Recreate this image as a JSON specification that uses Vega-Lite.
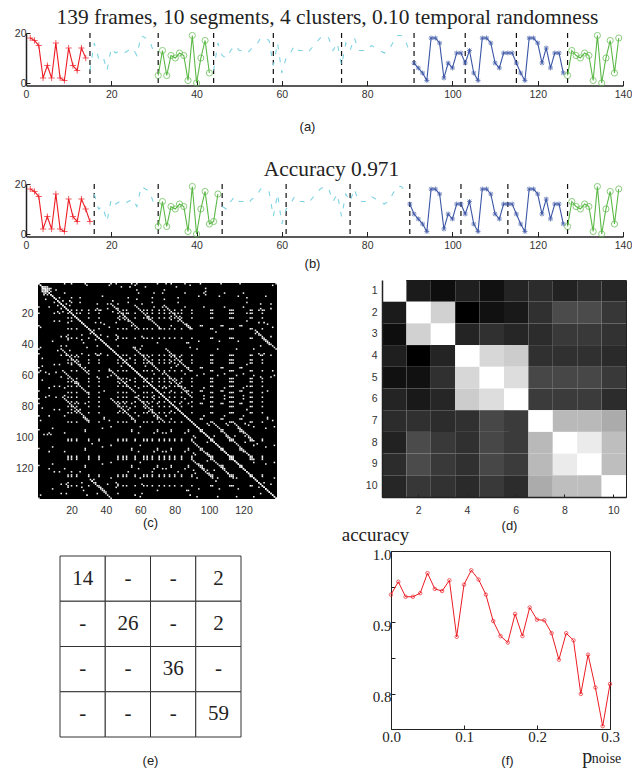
{"$schema":"https://vega.github.io/schema/vega-lite/v6.json","background":"white","padding":{"left":14,"top":6,"right":0,"bottom":0},"spacing":-12,"config":{"font":"Liberation Sans","view":{"stroke":null},"axisX":{"labelFlush":false}},
"datasets":{"seq":[{"t":1,"v":18,"a":"r","b":"r"},{"t":2,"v":17,"a":"r","b":"r"},{"t":3,"v":15,"a":"r","b":"r"},{"t":4,"v":2,"a":"r","b":"r"},{"t":5,"v":7,"a":"r","b":"r"},{"t":6,"v":2,"a":"r","b":"r"},{"t":7,"v":16,"a":"r","b":"r"},{"t":8,"v":2,"a":"r","b":"r"},{"t":9,"v":1,"a":"r","b":"r"},{"t":10,"v":14,"a":"r","b":"r"},{"t":11,"v":7,"a":"r","b":"r"},{"t":12,"v":5,"a":"r","b":"r"},{"t":13,"v":14,"a":"r","b":"r"},{"t":14,"v":10,"a":"r","b":"r"},{"t":15,"v":5,"a":"c1","b":"r"},{"t":16,"v":16,"a":"c1","b":"c1"},{"t":17,"v":10,"a":"c1","b":"c1"},{"t":18,"v":11,"a":"c1","b":"c1"},{"t":19,"v":5,"a":"c1","b":"c1"},{"t":20,"v":14,"a":"c1","b":"c1"},{"t":21,"v":12,"a":"c1","b":"c1"},{"t":22,"v":13,"a":"c1","b":"c1"},{"t":23,"v":12,"a":"c1","b":"c1"},{"t":24,"v":13,"a":"c1","b":"c1"},{"t":25,"v":14,"a":"c1","b":"c1"},{"t":26,"v":11,"a":"c1","b":"c1"},{"t":27,"v":19,"a":"c1","b":"c1"},{"t":28,"v":18,"a":"c1","b":"c1"},{"t":29,"v":17,"a":"c1","b":"c1"},{"t":30,"v":12,"a":"c1","b":"c1"},{"t":31,"v":3,"a":"g1","b":"g1"},{"t":32,"v":13,"a":"g1","b":"g1"},{"t":33,"v":3,"a":"g1","b":"g1"},{"t":34,"v":11,"a":"g1","b":"g1"},{"t":35,"v":10,"a":"g1","b":"g1"},{"t":36,"v":12,"a":"g1","b":"g1"},{"t":37,"v":11,"a":"g1","b":"g1"},{"t":38,"v":1,"a":"g1","b":"g1"},{"t":39,"v":19,"a":"g1","b":"g1"},{"t":40,"v":0,"a":"g1","b":"g1"},{"t":41,"v":10,"a":"g1","b":"g1"},{"t":42,"v":17,"a":"g1","b":"g1"},{"t":43,"v":4,"a":"g1","b":"g1"},{"t":44,"v":5,"a":"c2","b":"g1"},{"t":45,"v":16,"a":"c2","b":"g1"},{"t":46,"v":11,"a":"c2","b":"c2"},{"t":47,"v":10,"a":"c2","b":"c2"},{"t":48,"v":13,"a":"c2","b":"c2"},{"t":49,"v":15,"a":"c2","b":"c2"},{"t":50,"v":13,"a":"c2","b":"c2"},{"t":51,"v":13,"a":"c2","b":"c2"},{"t":52,"v":12,"a":"c2","b":"c2"},{"t":53,"v":14,"a":"c2","b":"c2"},{"t":54,"v":15,"a":"c2","b":"c2"},{"t":55,"v":18,"a":"c2","b":"c2"},{"t":56,"v":18,"a":"c2","b":"c2"},{"t":57,"v":17,"a":"c2","b":"c2"},{"t":58,"v":7,"a":"c2","b":"c2"},{"t":59,"v":16,"a":"c2","b":"c2"},{"t":60,"v":4,"a":"c2","b":"c2"},{"t":61,"v":10,"a":"c2","b":"c2"},{"t":62,"v":12,"a":"c2","b":"c2"},{"t":63,"v":15,"a":"c2","b":"c2"},{"t":64,"v":13,"a":"c2","b":"c2"},{"t":65,"v":13,"a":"c2","b":"c2"},{"t":66,"v":12,"a":"c2","b":"c2"},{"t":67,"v":14,"a":"c2","b":"c2"},{"t":68,"v":16,"a":"c2","b":"c2"},{"t":69,"v":18,"a":"c2","b":"c2"},{"t":70,"v":19,"a":"c2","b":"c2"},{"t":71,"v":18,"a":"c2","b":"c2"},{"t":72,"v":13,"a":"c2","b":"c2"},{"t":73,"v":16,"a":"c2","b":"c2"},{"t":74,"v":7,"a":"c2","b":"c2"},{"t":75,"v":16,"a":"c2","b":"c2"},{"t":76,"v":13,"a":"c2","b":"c2"},{"t":77,"v":18,"a":"c2","b":"c2"},{"t":78,"v":13,"a":"c2","b":"c2"},{"t":79,"v":13,"a":"c2","b":"c2"},{"t":80,"v":13,"a":"c2","b":"c2"},{"t":81,"v":15,"a":"c2","b":"c2"},{"t":82,"v":14,"a":"c2","b":"c2"},{"t":83,"v":13,"a":"c2","b":"c2"},{"t":84,"v":12,"a":"c2","b":"c2"},{"t":85,"v":13,"a":"c2","b":"c2"},{"t":86,"v":16,"a":"c2","b":"c2"},{"t":87,"v":19,"a":"c2","b":"c2"},{"t":88,"v":19,"a":"c2","b":"c2"},{"t":89,"v":17,"a":"c2","b":"c2"},{"t":90,"v":12,"a":"c2","b":"b"},{"t":91,"v":8,"a":"b","b":"b"},{"t":92,"v":6,"a":"b","b":"b"},{"t":93,"v":4,"a":"b","b":"b"},{"t":94,"v":1,"a":"b","b":"b"},{"t":95,"v":18,"a":"b","b":"b"},{"t":96,"v":18,"a":"b","b":"b"},{"t":97,"v":16,"a":"b","b":"b"},{"t":98,"v":2,"a":"b","b":"b"},{"t":99,"v":8,"a":"b","b":"b"},{"t":100,"v":6,"a":"b","b":"b"},{"t":101,"v":12,"a":"b","b":"b"},{"t":102,"v":12,"a":"b","b":"b"},{"t":103,"v":8,"a":"b","b":"b"},{"t":104,"v":13,"a":"b","b":"b"},{"t":105,"v":4,"a":"b","b":"b"},{"t":106,"v":1,"a":"b","b":"b"},{"t":107,"v":18,"a":"b","b":"b"},{"t":108,"v":18,"a":"b","b":"b"},{"t":109,"v":16,"a":"b","b":"b"},{"t":110,"v":8,"a":"b","b":"b"},{"t":111,"v":6,"a":"b","b":"b"},{"t":112,"v":12,"a":"b","b":"b"},{"t":113,"v":12,"a":"b","b":"b"},{"t":114,"v":12,"a":"b","b":"b"},{"t":115,"v":8,"a":"b","b":"b"},{"t":116,"v":4,"a":"b","b":"b"},{"t":117,"v":1,"a":"b","b":"b"},{"t":118,"v":18,"a":"b","b":"b"},{"t":119,"v":18,"a":"b","b":"b"},{"t":120,"v":16,"a":"b","b":"b"},{"t":121,"v":8,"a":"b","b":"b"},{"t":122,"v":14,"a":"b","b":"b"},{"t":123,"v":6,"a":"b","b":"b"},{"t":124,"v":12,"a":"b","b":"b"},{"t":125,"v":12,"a":"b","b":"b"},{"t":126,"v":4,"a":"b","b":"b"},{"t":127,"v":3,"a":"g2","b":"g2"},{"t":128,"v":13,"a":"g2","b":"g2"},{"t":129,"v":11,"a":"g2","b":"g2"},{"t":130,"v":10,"a":"g2","b":"g2"},{"t":131,"v":12,"a":"g2","b":"g2"},{"t":132,"v":11,"a":"g2","b":"g2"},{"t":133,"v":1,"a":"g2","b":"g2"},{"t":134,"v":19,"a":"g2","b":"g2"},{"t":135,"v":0,"a":"g2","b":"g2"},{"t":136,"v":10,"a":"g2","b":"g2"},{"t":137,"v":17,"a":"g2","b":"g2"},{"t":138,"v":4,"a":"g2","b":"g2"},{"t":139,"v":18,"a":"g2","b":"g2"}],
"rec":[{"a":1,"b":1},{"a":2,"b":2},{"a":3,"b":3},{"a":4,"b":4},{"a":5,"b":5},{"a":6,"b":6},{"a":7,"b":7},{"a":8,"b":8},{"a":9,"b":9},{"a":10,"b":10},{"a":11,"b":11},{"a":12,"b":12},{"a":13,"b":13},{"a":14,"b":14},{"a":15,"b":15},{"a":16,"b":16},{"a":17,"b":17},{"a":18,"b":18},{"a":19,"b":19},{"a":20,"b":20},{"a":21,"b":21},{"a":22,"b":22},{"a":23,"b":23},{"a":24,"b":24},{"a":25,"b":25},{"a":26,"b":26},{"a":27,"b":27},{"a":28,"b":28},{"a":29,"b":29},{"a":30,"b":30},{"a":31,"b":31},{"a":32,"b":32},{"a":33,"b":33},{"a":34,"b":34},{"a":35,"b":35},{"a":36,"b":36},{"a":37,"b":37},{"a":38,"b":38},{"a":39,"b":39},{"a":40,"b":40},{"a":41,"b":41},{"a":42,"b":42},{"a":43,"b":43},{"a":44,"b":44},{"a":45,"b":45},{"a":46,"b":46},{"a":47,"b":47},{"a":48,"b":48},{"a":49,"b":49},{"a":50,"b":50},{"a":51,"b":51},{"a":52,"b":52},{"a":53,"b":53},{"a":54,"b":54},{"a":55,"b":55},{"a":56,"b":56},{"a":57,"b":57},{"a":58,"b":58},{"a":59,"b":59},{"a":60,"b":60},{"a":61,"b":61},{"a":62,"b":62},{"a":63,"b":63},{"a":64,"b":64},{"a":65,"b":65},{"a":66,"b":66},{"a":67,"b":67},{"a":68,"b":68},{"a":69,"b":69},{"a":70,"b":70},{"a":71,"b":71},{"a":72,"b":72},{"a":73,"b":73},{"a":74,"b":74},{"a":75,"b":75},{"a":76,"b":76},{"a":77,"b":77},{"a":78,"b":78},{"a":79,"b":79},{"a":80,"b":80},{"a":81,"b":81},{"a":82,"b":82},{"a":83,"b":83},{"a":84,"b":84},{"a":85,"b":85},{"a":86,"b":86},{"a":87,"b":87},{"a":88,"b":88},{"a":89,"b":89},{"a":90,"b":90},{"a":91,"b":91},{"a":92,"b":92},{"a":93,"b":93},{"a":94,"b":94},{"a":95,"b":95},{"a":96,"b":96},{"a":97,"b":97},{"a":98,"b":98},{"a":99,"b":99},{"a":100,"b":100},{"a":101,"b":101},{"a":102,"b":102},{"a":103,"b":103},{"a":104,"b":104},{"a":105,"b":105},{"a":106,"b":106},{"a":107,"b":107},{"a":108,"b":108},{"a":109,"b":109},{"a":110,"b":110},{"a":111,"b":111},{"a":112,"b":112},{"a":113,"b":113},{"a":114,"b":114},{"a":115,"b":115},{"a":116,"b":116},{"a":117,"b":117},{"a":118,"b":118},{"a":119,"b":119},{"a":120,"b":120},{"a":121,"b":121},{"a":122,"b":122},{"a":123,"b":123},{"a":124,"b":124},{"a":125,"b":125},{"a":126,"b":126},{"a":127,"b":127},{"a":128,"b":128},{"a":129,"b":129},{"a":130,"b":130},{"a":131,"b":131},{"a":132,"b":132},{"a":133,"b":133},{"a":134,"b":134},{"a":135,"b":135},{"a":136,"b":136},{"a":137,"b":137},{"a":138,"b":138},{"a":139,"b":139},
{"a":14,"b":43},{"a":15,"b":44},{"a":16,"b":45},{"a":17,"b":46},{"a":18,"b":47},{"a":19,"b":48},{"a":20,"b":49},{"a":21,"b":50},{"a":22,"b":51},{"a":23,"b":52},{"a":24,"b":53},{"a":25,"b":54},{"a":26,"b":55},{"a":27,"b":56},{"a":28,"b":57},{"a":29,"b":58},{"a":30,"b":59},
{"a":15,"b":57},{"a":16,"b":58},{"a":17,"b":59},{"a":18,"b":60},{"a":19,"b":61},{"a":20,"b":62},{"a":21,"b":63},{"a":22,"b":64},{"a":23,"b":65},{"a":24,"b":66},{"a":25,"b":67},{"a":26,"b":68},{"a":27,"b":69},{"a":28,"b":70},{"a":29,"b":71},{"a":30,"b":72},
{"a":15,"b":74},{"a":16,"b":75},{"a":17,"b":76},{"a":18,"b":77},{"a":19,"b":78},{"a":20,"b":79},{"a":21,"b":80},{"a":22,"b":81},{"a":23,"b":82},{"a":24,"b":83},{"a":25,"b":84},{"a":26,"b":85},{"a":27,"b":86},{"a":28,"b":87},{"a":29,"b":88},{"a":30,"b":89},
{"a":42,"b":56},{"a":43,"b":57},{"a":44,"b":58},{"a":45,"b":59},{"a":46,"b":60},{"a":47,"b":61},{"a":48,"b":62},{"a":49,"b":63},{"a":50,"b":64},{"a":51,"b":65},{"a":52,"b":66},{"a":53,"b":67},{"a":54,"b":68},{"a":55,"b":69},{"a":56,"b":70},{"a":57,"b":71},
{"a":43,"b":75},{"a":44,"b":76},{"a":45,"b":77},{"a":46,"b":78},{"a":47,"b":79},{"a":48,"b":80},{"a":49,"b":81},{"a":50,"b":82},{"a":51,"b":83},{"a":52,"b":84},{"a":53,"b":85},{"a":54,"b":86},{"a":55,"b":87},{"a":56,"b":88},{"a":57,"b":89},
{"a":58,"b":74},{"a":59,"b":75},{"a":60,"b":76},{"a":61,"b":77},{"a":62,"b":78},{"a":63,"b":79},{"a":64,"b":80},{"a":65,"b":81},{"a":66,"b":82},{"a":67,"b":83},{"a":68,"b":84},{"a":69,"b":85},{"a":70,"b":86},{"a":71,"b":87},{"a":72,"b":88},{"a":73,"b":89},
{"a":31,"b":127},{"a":32,"b":128},{"a":33,"b":129},{"a":34,"b":130},{"a":35,"b":131},{"a":36,"b":132},{"a":37,"b":133},{"a":38,"b":134},{"a":39,"b":135},{"a":40,"b":136},{"a":41,"b":137},{"a":42,"b":138},{"a":43,"b":139},
{"a":91,"b":103},{"a":92,"b":104},{"a":93,"b":105},{"a":94,"b":106},{"a":95,"b":107},{"a":96,"b":108},{"a":97,"b":109},{"a":98,"b":110},{"a":99,"b":111},{"a":100,"b":112},{"a":101,"b":113},{"a":102,"b":114},{"a":103,"b":115},{"a":104,"b":116},{"a":105,"b":117},{"a":106,"b":118},{"a":107,"b":119},{"a":108,"b":120},{"a":109,"b":121},{"a":110,"b":122},{"a":111,"b":123},{"a":112,"b":124},{"a":113,"b":125},{"a":114,"b":126},
{"a":91,"b":115},{"a":92,"b":116},{"a":93,"b":117},{"a":94,"b":118},{"a":95,"b":119},{"a":96,"b":120},{"a":97,"b":121},{"a":98,"b":122},{"a":99,"b":123},{"a":100,"b":124},{"a":101,"b":125},{"a":102,"b":126},
{"a":18,"b":20},{"a":18,"b":23},{"a":18,"b":30},{"a":18,"b":36},{"a":18,"b":50},{"a":18,"b":52},{"a":18,"b":62},{"a":18,"b":64},{"a":18,"b":67},{"a":18,"b":71},{"a":18,"b":74},{"a":18,"b":80},{"a":18,"b":84},{"a":18,"b":90},{"a":18,"b":101},{"a":18,"b":102},{"a":18,"b":112},{"a":18,"b":113},{"a":18,"b":114},{"a":18,"b":124},{"a":18,"b":125},{"a":18,"b":131},
{"a":20,"b":23},{"a":20,"b":30},{"a":20,"b":36},{"a":20,"b":47},{"a":20,"b":50},{"a":20,"b":52},{"a":20,"b":57},{"a":20,"b":64},{"a":20,"b":67},{"a":20,"b":71},{"a":20,"b":74},{"a":20,"b":77},{"a":20,"b":80},{"a":20,"b":84},{"a":20,"b":90},{"a":20,"b":101},{"a":20,"b":102},{"a":20,"b":112},{"a":20,"b":113},{"a":20,"b":114},{"a":20,"b":124},{"a":20,"b":125},{"a":20,"b":131},
{"a":23,"b":30},{"a":23,"b":36},{"a":23,"b":47},{"a":23,"b":50},{"a":23,"b":57},{"a":23,"b":62},{"a":23,"b":64},{"a":23,"b":67},{"a":23,"b":71},{"a":23,"b":74},{"a":23,"b":77},{"a":23,"b":80},{"a":23,"b":84},{"a":23,"b":90},{"a":23,"b":101},{"a":23,"b":102},{"a":23,"b":112},{"a":23,"b":113},{"a":23,"b":114},{"a":23,"b":124},{"a":23,"b":125},{"a":23,"b":131},
{"a":30,"b":36},{"a":30,"b":47},{"a":30,"b":50},{"a":30,"b":52},{"a":30,"b":57},{"a":30,"b":62},{"a":30,"b":64},{"a":30,"b":67},{"a":30,"b":71},{"a":30,"b":74},{"a":30,"b":77},{"a":30,"b":80},{"a":30,"b":84},{"a":30,"b":90},{"a":30,"b":101},{"a":30,"b":102},{"a":30,"b":112},{"a":30,"b":113},{"a":30,"b":114},{"a":30,"b":124},{"a":30,"b":125},{"a":30,"b":131},
{"a":36,"b":47},{"a":36,"b":50},{"a":36,"b":52},{"a":36,"b":57},{"a":36,"b":62},{"a":36,"b":64},{"a":36,"b":67},{"a":36,"b":71},{"a":36,"b":74},{"a":36,"b":77},{"a":36,"b":80},{"a":36,"b":84},{"a":36,"b":90},{"a":36,"b":101},{"a":36,"b":102},{"a":36,"b":112},{"a":36,"b":113},{"a":36,"b":114},{"a":36,"b":124},{"a":36,"b":125},{"a":36,"b":131},
{"a":47,"b":50},{"a":47,"b":52},{"a":47,"b":57},{"a":47,"b":62},{"a":47,"b":64},{"a":47,"b":67},{"a":47,"b":71},{"a":47,"b":74},{"a":47,"b":77},{"a":47,"b":80},{"a":47,"b":84},{"a":47,"b":90},{"a":47,"b":101},{"a":47,"b":102},{"a":47,"b":112},{"a":47,"b":113},{"a":47,"b":114},{"a":47,"b":124},{"a":47,"b":125},{"a":47,"b":131},
{"a":50,"b":52},{"a":50,"b":57},{"a":50,"b":62},{"a":50,"b":67},{"a":50,"b":71},{"a":50,"b":74},{"a":50,"b":77},{"a":50,"b":80},{"a":50,"b":84},{"a":50,"b":90},{"a":50,"b":101},{"a":50,"b":102},{"a":50,"b":112},{"a":50,"b":113},{"a":50,"b":114},{"a":50,"b":124},{"a":50,"b":125},{"a":50,"b":131},
{"a":52,"b":57},{"a":52,"b":62},{"a":52,"b":64},{"a":52,"b":67},{"a":52,"b":71},{"a":52,"b":74},{"a":52,"b":77},{"a":52,"b":80},{"a":52,"b":90},{"a":52,"b":101},{"a":52,"b":102},{"a":52,"b":112},{"a":52,"b":113},{"a":52,"b":114},{"a":52,"b":124},{"a":52,"b":125},{"a":52,"b":131},
{"a":57,"b":62},{"a":57,"b":64},{"a":57,"b":67},{"a":57,"b":74},{"a":57,"b":77},{"a":57,"b":80},{"a":57,"b":84},{"a":57,"b":90},{"a":57,"b":101},{"a":57,"b":102},{"a":57,"b":112},{"a":57,"b":113},{"a":57,"b":114},{"a":57,"b":124},{"a":57,"b":125},{"a":57,"b":131},
{"a":62,"b":64},{"a":62,"b":67},{"a":62,"b":71},{"a":62,"b":74},{"a":62,"b":77},{"a":62,"b":80},{"a":62,"b":84},{"a":62,"b":90},{"a":62,"b":101},{"a":62,"b":102},{"a":62,"b":112},{"a":62,"b":113},{"a":62,"b":114},{"a":62,"b":124},{"a":62,"b":125},{"a":62,"b":131},
{"a":64,"b":67},{"a":64,"b":71},{"a":64,"b":74},{"a":64,"b":77},{"a":64,"b":84},{"a":64,"b":90},{"a":64,"b":101},{"a":64,"b":102},{"a":64,"b":112},{"a":64,"b":113},{"a":64,"b":114},{"a":64,"b":124},{"a":64,"b":125},{"a":64,"b":131},
{"a":67,"b":71},{"a":67,"b":74},{"a":67,"b":77},{"a":67,"b":80},{"a":67,"b":84},{"a":67,"b":90},{"a":67,"b":101},{"a":67,"b":102},{"a":67,"b":112},{"a":67,"b":113},{"a":67,"b":114},{"a":67,"b":124},{"a":67,"b":125},{"a":67,"b":131},
{"a":71,"b":74},{"a":71,"b":77},{"a":71,"b":80},{"a":71,"b":84},{"a":71,"b":90},{"a":71,"b":101},{"a":71,"b":102},{"a":71,"b":112},{"a":71,"b":113},{"a":71,"b":114},{"a":71,"b":124},{"a":71,"b":125},{"a":71,"b":131},
{"a":74,"b":77},{"a":74,"b":80},{"a":74,"b":84},{"a":74,"b":90},{"a":74,"b":101},{"a":74,"b":102},{"a":74,"b":112},{"a":74,"b":113},{"a":74,"b":114},{"a":74,"b":124},{"a":74,"b":125},{"a":74,"b":131},
{"a":77,"b":80},{"a":77,"b":84},{"a":77,"b":90},{"a":77,"b":101},{"a":77,"b":102},{"a":77,"b":112},{"a":77,"b":113},{"a":77,"b":114},{"a":77,"b":124},{"a":77,"b":125},{"a":77,"b":131},
{"a":80,"b":84},{"a":80,"b":90},{"a":80,"b":101},{"a":80,"b":102},{"a":80,"b":112},{"a":80,"b":113},{"a":80,"b":114},{"a":80,"b":124},{"a":80,"b":125},{"a":80,"b":131},
{"a":84,"b":90},{"a":84,"b":101},{"a":84,"b":102},{"a":84,"b":112},{"a":84,"b":113},{"a":84,"b":114},{"a":84,"b":124},{"a":84,"b":125},{"a":84,"b":131},
{"a":90,"b":101},{"a":90,"b":102},{"a":90,"b":112},{"a":90,"b":113},{"a":90,"b":114},{"a":90,"b":124},{"a":90,"b":125},{"a":90,"b":131},
{"a":101,"b":102},{"a":101,"b":112},{"a":101,"b":114},{"a":101,"b":124},{"a":101,"b":131},{"a":102,"b":112},{"a":102,"b":113},{"a":102,"b":124},{"a":102,"b":125},{"a":102,"b":131},{"a":112,"b":113},{"a":112,"b":114},{"a":112,"b":125},{"a":112,"b":131},{"a":113,"b":114},{"a":113,"b":124},{"a":113,"b":131},{"a":114,"b":124},{"a":114,"b":125},{"a":114,"b":131},{"a":124,"b":125},{"a":124,"b":131},{"a":125,"b":131},
{"a":28,"b":55},{"a":28,"b":78},{"a":28,"b":88},{"a":28,"b":95},{"a":28,"b":96},{"a":28,"b":107},{"a":28,"b":108},{"a":28,"b":118},{"a":28,"b":119},{"a":55,"b":78},{"a":55,"b":88},{"a":55,"b":95},{"a":55,"b":96},{"a":55,"b":107},{"a":55,"b":108},{"a":55,"b":118},{"a":55,"b":119},{"a":70,"b":78},{"a":70,"b":88},{"a":70,"b":95},{"a":70,"b":96},{"a":70,"b":107},{"a":70,"b":108},{"a":70,"b":118},{"a":70,"b":119},{"a":78,"b":88},{"a":78,"b":95},{"a":78,"b":96},{"a":78,"b":107},{"a":78,"b":108},{"a":78,"b":118},{"a":78,"b":119},{"a":88,"b":95},{"a":88,"b":96},{"a":88,"b":107},{"a":88,"b":108},{"a":88,"b":118},{"a":88,"b":119},{"a":95,"b":96},{"a":95,"b":108},{"a":95,"b":118},{"a":96,"b":107},{"a":96,"b":118},{"a":96,"b":119},{"a":107,"b":108},{"a":107,"b":118},{"a":108,"b":118},{"a":108,"b":119},{"a":118,"b":119},
{"a":4,"b":6},{"a":4,"b":8},{"a":6,"b":8},{"a":4,"b":98},{"a":6,"b":98},{"a":8,"b":98},{"a":3,"b":5},{"a":3,"b":6},{"a":3,"b":4},{"a":4,"b":5},{"a":5,"b":6},{"a":5,"b":7},{"a":4,"b":7},
{"a":9,"b":38},{"a":9,"b":94},{"a":9,"b":106},{"a":9,"b":117},{"a":9,"b":133},{"a":38,"b":94},{"a":38,"b":106},{"a":38,"b":117},{"a":38,"b":133},{"a":94,"b":117},{"a":94,"b":133},{"a":106,"b":133},{"a":117,"b":133},
{"a":43,"b":60},{"a":43,"b":93},{"a":43,"b":105},{"a":43,"b":116},{"a":43,"b":126},{"a":60,"b":93},{"a":60,"b":105},{"a":60,"b":116},{"a":60,"b":126},{"a":60,"b":138},{"a":93,"b":126},{"a":93,"b":138},{"a":105,"b":126},{"a":105,"b":138},{"a":116,"b":126},{"a":116,"b":138},{"a":126,"b":138},
{"a":91,"b":99},{"a":91,"b":110},{"a":91,"b":121},{"a":99,"b":103},{"a":99,"b":110},{"a":99,"b":115},{"a":99,"b":121},{"a":103,"b":121},{"a":92,"b":100},{"a":92,"b":111},{"a":92,"b":123},{"a":100,"b":111},{"a":100,"b":123},{"a":111,"b":123},
{"a":7,"b":16},{"a":7,"b":59},{"a":7,"b":68},{"a":7,"b":73},{"a":7,"b":86},{"a":7,"b":97},{"a":7,"b":109},{"a":7,"b":120},{"a":16,"b":68},{"a":16,"b":73},{"a":16,"b":86},{"a":16,"b":97},{"a":16,"b":109},{"a":16,"b":120},{"a":59,"b":68},{"a":59,"b":73},{"a":59,"b":86},{"a":59,"b":97},{"a":59,"b":109},{"a":59,"b":120},{"a":68,"b":73},{"a":68,"b":75},{"a":68,"b":86},{"a":68,"b":97},{"a":68,"b":109},{"a":68,"b":120},{"a":73,"b":97},{"a":73,"b":109},{"a":73,"b":120},{"a":75,"b":86},{"a":75,"b":97},{"a":75,"b":109},{"a":75,"b":120},{"a":86,"b":97},{"a":86,"b":109},{"a":86,"b":120},{"a":97,"b":120},{"a":109,"b":120},
{"a":27,"b":39},{"a":27,"b":87},{"a":27,"b":134},{"a":39,"b":70},{"a":39,"b":87},{"a":39,"b":88},{"a":39,"b":134},{"a":70,"b":87},{"a":70,"b":134},{"a":87,"b":134},{"a":88,"b":134},{"a":31,"b":33},{"a":33,"b":127},{"a":40,"b":135},
{"a":2,"b":29},{"a":2,"b":42},{"a":2,"b":57},{"a":2,"b":89},{"a":2,"b":137},{"a":29,"b":42},{"a":29,"b":89},{"a":29,"b":137},{"a":42,"b":57},{"a":42,"b":89},{"a":57,"b":137},{"a":89,"b":137},
{"a":10,"b":13},{"a":10,"b":20},{"a":10,"b":25},{"a":10,"b":53},{"a":10,"b":67},{"a":10,"b":82},{"a":10,"b":122},{"a":13,"b":20},{"a":13,"b":25},{"a":13,"b":53},{"a":13,"b":67},{"a":13,"b":82},{"a":13,"b":122},{"a":20,"b":25},{"a":20,"b":53},{"a":20,"b":82},{"a":20,"b":122},{"a":25,"b":53},{"a":25,"b":82},{"a":25,"b":122},{"a":53,"b":82},{"a":53,"b":122},{"a":67,"b":82},{"a":67,"b":122},{"a":82,"b":122},
{"a":14,"b":17},{"a":14,"b":35},{"a":14,"b":41},{"a":14,"b":47},{"a":14,"b":61},{"a":14,"b":130},{"a":14,"b":136},{"a":17,"b":35},{"a":17,"b":41},{"a":17,"b":47},{"a":17,"b":130},{"a":17,"b":136},{"a":35,"b":41},{"a":35,"b":47},{"a":35,"b":61},{"a":35,"b":136},{"a":41,"b":47},{"a":41,"b":61},{"a":41,"b":130},{"a":47,"b":130},{"a":47,"b":136},{"a":61,"b":130},{"a":61,"b":136},{"a":130,"b":136},
{"a":18,"b":26},{"a":18,"b":34},{"a":18,"b":37},{"a":18,"b":129},{"a":18,"b":132},{"a":26,"b":34},{"a":26,"b":37},{"a":26,"b":46},{"a":26,"b":129},{"a":26,"b":132},{"a":34,"b":37},{"a":34,"b":46},{"a":34,"b":129},{"a":37,"b":46},{"a":37,"b":132},{"a":46,"b":129},{"a":46,"b":132},{"a":129,"b":132},
{"a":12,"b":15},{"a":12,"b":19},{"a":12,"b":44},{"a":15,"b":19},{"a":19,"b":44},{"a":5,"b":11},{"a":5,"b":58},{"a":5,"b":74},{"a":11,"b":58},{"a":11,"b":74},{"a":3,"b":49},{"a":3,"b":54},{"a":3,"b":63},{"a":3,"b":81},{"a":49,"b":54},{"a":54,"b":63},{"a":54,"b":81},{"a":63,"b":81},
{"a":1,"b":16},{"a":1,"b":20},{"a":1,"b":28},{"a":1,"b":43},{"a":1,"b":46},{"a":1,"b":55},{"a":1,"b":58},{"a":1,"b":70},{"a":1,"b":75},{"a":1,"b":78},{"a":1,"b":86},{"a":1,"b":95},{"a":1,"b":107},{"a":1,"b":118},{"a":1,"b":139},{"a":22,"b":48},{"a":22,"b":51},{"a":24,"b":48},{"a":24,"b":51},{"a":22,"b":65},{"a":24,"b":65},{"a":22,"b":78},{"a":24,"b":78},{"a":22,"b":83},{"a":24,"b":83},{"a":48,"b":65},{"a":51,"b":65},{"a":48,"b":78},{"a":51,"b":78},{"a":48,"b":83},{"a":51,"b":83},{"a":65,"b":78},{"a":65,"b":83},{"a":78,"b":83},{"a":32,"b":128},{"a":32,"b":104},{"a":104,"b":128}]},
"vconcat":[
{"width":597,"height":52.5,"title":{"text":"139 frames, 10 segments, 4 clusters, 0.10 temporal randomness","font":"Liberation Serif","fontSize":21.4,"fontWeight":"normal","color":"#222","dx":3,"offset":0},"layer":[
{"data":{"values":[{"s":15},{"s":31},{"s":44},{"s":58},{"s":74},{"s":91},{"s":103},{"s":115},{"s":127}]},"mark":{"type":"rule","strokeDash":[5,4],"strokeWidth":1.2,"color":"#111"},"encoding":{"x":{"field":"s","type":"quantitative","scale":{"domain":[0,140],"nice":false}}}},
{"data":{"name":"seq"},"mark":{"type":"line","strokeWidth":1.1,"clip":false},"encoding":{"x":{"field":"t","type":"quantitative","scale":{"domain":[0,140],"nice":false},"axis":{"values":[0,20,40,60,80,100,120,140],"grid":false,"labelFontSize":10.5,"labelColor":"#333","tickSize":-5,"tickColor":"#222","domainColor":"#222","domainWidth":1.5,"labelPadding":9,"title":"(a)","titleFontSize":13,"titleFontWeight":"normal","titleColor":"#222","titleX":281,"titleY":34.5}},"y":{"field":"v","type":"quantitative","scale":{"domain":[-1,20],"nice":false},"axis":{"values":[0,10,20],"grid":false,"labelFontSize":10.5,"labelColor":"#333","tickSize":-4,"tickColor":"#222","domainColor":"#222","domainWidth":1.5,"labelPadding":4,"title":null}},"color":{"field":"a","type":"nominal","legend":null,"scale":{"domain":["r","c1","g1","c2","b","g2"],"range":["#ed1c24","#7dd3e3","#5cb948","#7dd3e3","#3a55a5","#5cb948"]}},"strokeDash":{"field":"a","type":"nominal","legend":null,"scale":{"domain":["r","c1","g1","c2","b","g2"],"range":[[1,0],[5,8],[1,0],[5,8],[1,0],[1,0]]}}}},
{"data":{"name":"seq"},"transform":[{"filter":"datum.a!='c1'&&datum.a!='c2'"}],"mark":{"type":"point","filled":false,"size":38},"encoding":{"x":{"field":"t","type":"quantitative"},"y":{"field":"v","type":"quantitative"},"color":{"field":"a","type":"nominal","legend":null},"strokeWidth":{"field":"a","type":"nominal","legend":null,"scale":{"domain":["r","g1","b","g2"],"range":[1,1,1.6,1]}},"shape":{"field":"a","type":"nominal","legend":null,"scale":{"domain":["r","g1","b","g2"],"range":["M-1,0H1M0,-1V1","circle","M-.8,0H.8M0,-.8V.8M-.6,-.6L.6,.6M-.6,.6L.6,-.6","circle"]}}}}
]},
{"width":1,"height":37,"data":{"values":[]},"mark":"point","encoding":{}},
{"width":597,"height":52.5,"title":{"text":"Accuracy 0.971","font":"Liberation Serif","fontSize":21.4,"fontWeight":"normal","color":"#222","dx":7,"offset":-1},"layer":[
{"data":{"values":[{"s":16},{"s":31},{"s":46},{"s":61},{"s":76},{"s":90},{"s":102},{"s":113},{"s":127}]},"mark":{"type":"rule","strokeDash":[5,4],"strokeWidth":1.2,"color":"#111"},"encoding":{"x":{"field":"s","type":"quantitative","scale":{"domain":[0,140],"nice":false}}}},
{"data":{"name":"seq"},"mark":{"type":"line","strokeWidth":1.1,"clip":false},"encoding":{"x":{"field":"t","type":"quantitative","scale":{"domain":[0,140],"nice":false},"axis":{"values":[0,20,40,60,80,100,120,140],"grid":false,"labelFontSize":10.5,"labelColor":"#333","tickSize":-5,"tickColor":"#222","domainColor":"#222","domainWidth":1.5,"labelPadding":9,"title":"(b)","titleFontSize":13,"titleFontWeight":"normal","titleColor":"#222","titleX":286,"titleY":20.5}},"y":{"field":"v","type":"quantitative","scale":{"domain":[-1,20],"nice":false},"axis":{"values":[0,10,20],"grid":false,"labelFontSize":10.5,"labelColor":"#333","tickSize":-4,"tickColor":"#222","domainColor":"#222","domainWidth":1.5,"labelPadding":4,"title":null}},"color":{"field":"b","type":"nominal","legend":null,"scale":{"domain":["r","c1","g1","c2","b","g2"],"range":["#ed1c24","#7dd3e3","#5cb948","#7dd3e3","#3a55a5","#5cb948"]}},"strokeDash":{"field":"b","type":"nominal","legend":null,"scale":{"domain":["r","c1","g1","c2","b","g2"],"range":[[1,0],[5,8],[1,0],[5,8],[1,0],[1,0]]}}}},
{"data":{"name":"seq"},"transform":[{"filter":"datum.b!='c1'&&datum.b!='c2'"}],"mark":{"type":"point","filled":false,"size":38},"encoding":{"x":{"field":"t","type":"quantitative"},"y":{"field":"v","type":"quantitative"},"color":{"field":"b","type":"nominal","legend":null},"strokeWidth":{"field":"b","type":"nominal","legend":null,"scale":{"domain":["r","g1","b","g2"],"range":[1,1,1.6,1]}},"shape":{"field":"b","type":"nominal","legend":null,"scale":{"domain":["r","g1","b","g2"],"range":["M-1,0H1M0,-1V1","circle","M-.8,0H.8M0,-.8V.8M-.6,-.6L.6,.6M-.6,.6L.6,-.6","circle"]}}}}
]},
{"width":1,"height":10,"data":{"values":[]},"mark":"point","encoding":{}},
{"bounds":"flush","spacing":0,"hconcat":[
{"width":12,"height":0,"data":{"values":[]},"mark":"point","encoding":{}},
{"width":239,"height":219,"layer":[
{"data":{"values":[{"x0":0.5,"x1":139.5,"y0":0.5,"y1":139.5}]},"mark":{"type":"rect","color":"black"},"encoding":{"x":{"field":"x0","type":"quantitative","scale":{"domain":[0.5,139.5],"nice":false},"axis":{"values":[20,40,60,80,100,120],"grid":false,"domain":false,"tickSize":0,"labelFontSize":10.5,"labelColor":"#333","labelPadding":6,"title":"(c)","titleFontSize":13,"titleFontWeight":"normal","titleColor":"#222","titleX":112,"titleY":17}},"x2":{"field":"x1"},"y":{"field":"y0","type":"quantitative","scale":{"domain":[0.5,139.5],"nice":false,"range":[3,219]},"axis":{"values":[20,40,60,80,100,120],"grid":false,"domain":false,"tickSize":0,"labelFontSize":10.5,"labelColor":"#333","labelPadding":5,"title":null}},"y2":{"field":"y1"}}},
{"data":{"name":"rec"},"mark":{"type":"square","size":2.4,"color":"white","opacity":0.95},"encoding":{"x":{"field":"a","type":"quantitative"},"y":{"field":"b","type":"quantitative"}}},
{"data":{"name":"rec"},"mark":{"type":"square","size":2.4,"color":"white","opacity":0.95},"encoding":{"x":{"field":"b","type":"quantitative"},"y":{"field":"a","type":"quantitative"}}}]},
{"width":105,"height":0,"data":{"values":[]},"mark":"point","encoding":{}},
{"width":244,"height":217,"view":{"stroke":"#222"},"data":{"values":[{"r":1,"c":1,"g":1},{"r":1,"c":2,"g":0.10},{"r":1,"c":3,"g":0.04},{"r":1,"c":4,"g":0.12},{"r":1,"c":5,"g":0.05},{"r":1,"c":6,"g":0.14},{"r":1,"c":7,"g":0.18},{"r":1,"c":8,"g":0.13},{"r":1,"c":9,"g":0.18},{"r":1,"c":10,"g":0.15},{"r":2,"c":1,"g":0.10},{"r":2,"c":2,"g":1},{"r":2,"c":3,"g":0.84},{"r":2,"c":4,"g":0},{"r":2,"c":5,"g":0.05},{"r":2,"c":6,"g":0.09},{"r":2,"c":7,"g":0.20},{"r":2,"c":8,"g":0.32},{"r":2,"c":9,"g":0.32},{"r":2,"c":10,"g":0.23},{"r":3,"c":1,"g":0.04},{"r":3,"c":2,"g":0.84},{"r":3,"c":3,"g":1},{"r":3,"c":4,"g":0.14},{"r":3,"c":5,"g":0.20},{"r":3,"c":6,"g":0.15},{"r":3,"c":7,"g":0.18},{"r":3,"c":8,"g":0.24},{"r":3,"c":9,"g":0.24},{"r":3,"c":10,"g":0.21},{"r":4,"c":1,"g":0.12},{"r":4,"c":2,"g":0},{"r":4,"c":3,"g":0.14},{"r":4,"c":4,"g":1},{"r":4,"c":5,"g":0.86},{"r":4,"c":6,"g":0.82},{"r":4,"c":7,"g":0.20},{"r":4,"c":8,"g":0.20},{"r":4,"c":9,"g":0.20},{"r":4,"c":10,"g":0.17},{"r":5,"c":1,"g":0.05},{"r":5,"c":2,"g":0.05},{"r":5,"c":3,"g":0.20},{"r":5,"c":4,"g":0.86},{"r":5,"c":5,"g":1},{"r":5,"c":6,"g":0.88},{"r":5,"c":7,"g":0.30},{"r":5,"c":8,"g":0.30},{"r":5,"c":9,"g":0.30},{"r":5,"c":10,"g":0.24},{"r":6,"c":1,"g":0.14},{"r":6,"c":2,"g":0.09},{"r":6,"c":3,"g":0.15},{"r":6,"c":4,"g":0.82},{"r":6,"c":5,"g":0.88},{"r":6,"c":6,"g":1},{"r":6,"c":7,"g":0.25},{"r":6,"c":8,"g":0.25},{"r":6,"c":9,"g":0.25},{"r":6,"c":10,"g":0.18},{"r":7,"c":1,"g":0.18},{"r":7,"c":2,"g":0.20},{"r":7,"c":3,"g":0.18},{"r":7,"c":4,"g":0.20},{"r":7,"c":5,"g":0.30},{"r":7,"c":6,"g":0.25},{"r":7,"c":7,"g":1},{"r":7,"c":8,"g":0.75},{"r":7,"c":9,"g":0.75},{"r":7,"c":10,"g":0.70},{"r":8,"c":1,"g":0.13},{"r":8,"c":2,"g":0.32},{"r":8,"c":3,"g":0.24},{"r":8,"c":4,"g":0.20},{"r":8,"c":5,"g":0.30},{"r":8,"c":6,"g":0.25},{"r":8,"c":7,"g":0.75},{"r":8,"c":8,"g":1},{"r":8,"c":9,"g":0.93},{"r":8,"c":10,"g":0.77},{"r":9,"c":1,"g":0.18},{"r":9,"c":2,"g":0.32},{"r":9,"c":3,"g":0.24},{"r":9,"c":4,"g":0.20},{"r":9,"c":5,"g":0.30},{"r":9,"c":6,"g":0.25},{"r":9,"c":7,"g":0.75},{"r":9,"c":8,"g":0.93},{"r":9,"c":9,"g":1},{"r":9,"c":10,"g":0.77},{"r":10,"c":1,"g":0.15},{"r":10,"c":2,"g":0.23},{"r":10,"c":3,"g":0.21},{"r":10,"c":4,"g":0.17},{"r":10,"c":5,"g":0.24},{"r":10,"c":6,"g":0.18},{"r":10,"c":7,"g":0.70},{"r":10,"c":8,"g":0.77},{"r":10,"c":9,"g":0.77},{"r":10,"c":10,"g":1}]},"mark":"rect","encoding":{"x":{"field":"c","type":"ordinal","scale":{"paddingInner":0,"paddingOuter":0},"axis":{"values":[2,4,6,8,10],"labelAngle":0,"grid":false,"domainColor":"#222","domainWidth":1.5,"tickColor":"#222","tickSize":-3,"labelFontSize":10.5,"labelColor":"#333","labelPadding":11,"title":"(d)","titleFontSize":13,"titleFontWeight":"normal","titleColor":"#222","titleX":127,"titleY":22}},"y":{"field":"r","type":"ordinal","scale":{"paddingInner":0,"paddingOuter":0},"axis":{"grid":false,"domainColor":"#222","domainWidth":1.5,"tickSize":0,"labelFontSize":10.5,"labelColor":"#333","labelPadding":5,"title":null}},"color":{"field":"g","type":"quantitative","legend":null,"scale":{"domain":[0,1],"range":["#000000","#ffffff"]}}}}
]},
{"width":1,"height":3,"data":{"values":[]},"mark":"point","encoding":{}},
{"bounds":"flush","spacing":0,"hconcat":[
{"width":34,"height":0,"data":{"values":[]},"mark":"point","encoding":{}},
{"width":181,"height":186,"data":{"values":[{"r":1,"c":1,"l":"14"},{"r":1,"c":2,"l":"-"},{"r":1,"c":3,"l":"-"},{"r":1,"c":4,"l":"2"},{"r":2,"c":1,"l":"-"},{"r":2,"c":2,"l":"26"},{"r":2,"c":3,"l":"-"},{"r":2,"c":4,"l":"2"},{"r":3,"c":1,"l":"-"},{"r":3,"c":2,"l":"-"},{"r":3,"c":3,"l":"36"},{"r":3,"c":4,"l":"-"},{"r":4,"c":1,"l":"-"},{"r":4,"c":2,"l":"-"},{"r":4,"c":3,"l":"-"},{"r":4,"c":4,"l":"59"}]},"encoding":{"x":{"field":"c","type":"ordinal","scale":{"paddingInner":0,"paddingOuter":0},"axis":{"labels":false,"ticks":false,"domain":false,"grid":false,"title":"(e)","titleFontSize":13,"titleFontWeight":"normal","titleColor":"#222","titleX":90,"titleY":17}},"y":{"field":"r","type":"ordinal","scale":{"paddingInner":0,"paddingOuter":0,"range":[5,186]},"axis":null}},"layer":[{"mark":{"type":"rect","fill":"white","stroke":"#333","strokeWidth":1}},{"mark":{"type":"text","font":"Liberation Serif","fontSize":21,"color":"#222"},"encoding":{"text":{"field":"l","type":"nominal"}}}]},
{"width":150,"height":0,"data":{"values":[]},"mark":"point","encoding":{}},
{"width":219,"height":178,"view":{"stroke":"#222"},"data":{"values":[{"p":0,"acc":0.939},{"p":0.01,"acc":0.957},{"p":0.02,"acc":0.936},{"p":0.03,"acc":0.936},{"p":0.04,"acc":0.941},{"p":0.05,"acc":0.969},{"p":0.06,"acc":0.947},{"p":0.07,"acc":0.944},{"p":0.08,"acc":0.959},{"p":0.09,"acc":0.880},{"p":0.1,"acc":0.953},{"p":0.11,"acc":0.973},{"p":0.12,"acc":0.960},{"p":0.13,"acc":0.939},{"p":0.14,"acc":0.902},{"p":0.15,"acc":0.881},{"p":0.16,"acc":0.872},{"p":0.17,"acc":0.912},{"p":0.18,"acc":0.881},{"p":0.19,"acc":0.921},{"p":0.2,"acc":0.904},{"p":0.21,"acc":0.903},{"p":0.22,"acc":0.885},{"p":0.23,"acc":0.848},{"p":0.24,"acc":0.885},{"p":0.25,"acc":0.875},{"p":0.26,"acc":0.800},{"p":0.27,"acc":0.855},{"p":0.28,"acc":0.809},{"p":0.29,"acc":0.755},{"p":0.3,"acc":0.814}]},"encoding":{"x":{"field":"p","type":"quantitative","scale":{"domain":[0,0.3],"nice":false},"axis":{"values":[0,0.1,0.2,0.3],"format":".1f","grid":false,"domainColor":"#222","tickColor":"#222","tickSize":-4,"labelFont":"Liberation Serif","labelFontSize":15,"labelColor":"#222","labelPadding":4,"title":"(f)","titleFontSize":13,"titleFontWeight":"normal","titleColor":"#222","titleX":116,"titleY":25}},"y":{"field":"acc","type":"quantitative","scale":{"domain":[0.751,1],"nice":false},"axis":{"values":[0.8,0.85,0.9,0.95,1],"labelExpr":"datum.value==0.85||datum.value==0.95?'':format(datum.value,'.1f')","grid":false,"domainColor":"#222","tickColor":"#222","tickSize":-4,"labelFont":"Liberation Serif","labelFontSize":15,"labelColor":"#222","labelPadding":4,"labelOffset":3,"title":"accuracy","titleFont":"Liberation Serif","titleFontSize":19,"titleFontWeight":"normal","titleColor":"#222","titleAngle":0,"titleAlign":"center","titleX":-16,"titleY":-7}}},"layer":[{"mark":{"type":"line","color":"#ed1c24","strokeWidth":1}},{"mark":{"type":"point","filled":false,"color":"#ed1c24","size":12,"strokeWidth":1}},{"data":{"values":[{"p":0.262,"acc":0.712,"lab":"p"}]},"mark":{"type":"text","font":"Liberation Serif","fontSize":20,"align":"left","color":"#222"},"encoding":{"text":{"field":"lab","type":"nominal"}}},{"data":{"values":[{"p":0.275,"acc":0.709,"lab":"noise"}]},"mark":{"type":"text","font":"Liberation Serif","fontSize":14,"align":"left","color":"#222"},"encoding":{"text":{"field":"lab","type":"nominal"}}}]}
]}
]}
